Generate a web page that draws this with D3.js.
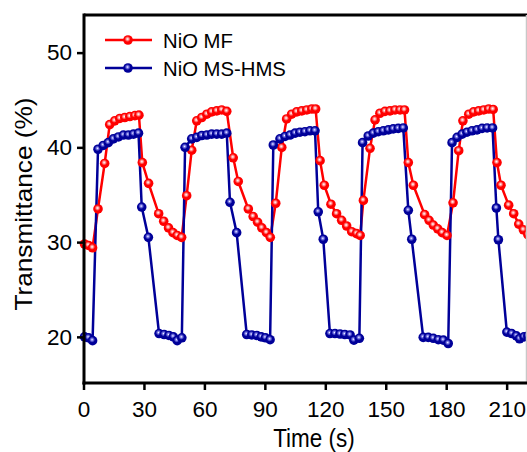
<!DOCTYPE html>
<html><head><meta charset="utf-8">
<script src="https://cdn.jsdelivr.net/npm/d3@7"></script>
<style>body{margin:0;background:#fff}svg{display:block}text{font-family:"Liberation Sans",Arial,sans-serif;fill:#000}</style>
</head><body>
<script>
const seriesNames = ["NiO MF", "NiO MS-HMS"];
const seriesColors = ["#ff0000", "#000099"];
const xTicks = [0, 30, 60, 90, 120, 150, 180, 210];
const yTicks = [20, 30, 40, 50];

const mfTime = [0.5,2.5,4.5, 7.2,10.5,13,15.5,18,20.5,23,25.5,27.5, 29.2,32.3,37.3,39.8,42.2,44.4,46.5,48.7,
  51.2,53.7,56.2,58.7,61.2,63.6,66.1,68.6,71.1, 74.3,76.8,81.8,84.2,86.4,88.5,90.8,92.7,
  95.4,98.4,100.8,103.3,105.8,108.3,110.8,113.3,115.2, 117.4,119.5,122.8,125.6,128.1,130.6,133.1,135.5,137.3,
  138.9,142.2,144.7,147.1,149.6,152.1,154.6,157.1,159.3, 161.2,163.7,169.3,171.5,173.6,175.8,178,180.4,
  183.4,186.2,188.3,191.2,193.6,196.1,198.6,201.1,203.3, 205.2,207.2,211,213.5,216,218.3,220.5];
const mfValue = [29.8,29.65,29.4, 33.5,38.3,42.4,42.8,43.05,43.15,43.25,43.35,43.4, 38.4,36.2,33.0,32.2,31.5,31.0,30.7,30.5,
  34.9,39.7,42.8,43.15,43.5,43.75,43.85,43.95,43.8, 38.9,36.4,33.5,32.7,32.1,31.5,31.0,30.5,
  34.1,40.0,43.0,43.5,43.75,43.85,43.95,44.05,44.05, 38.6,36.0,34.0,33.0,32.3,31.7,31.1,30.9,30.7,
  34.4,39.9,42.9,43.6,43.8,43.85,43.95,43.95,43.95, 38.4,36.0,32.9,32.3,31.8,31.4,31.0,30.7,
  34.15,39.65,42.8,43.5,43.75,43.85,43.95,44.05,44.0, 38.4,36.0,33.9,33.0,31.9,31.3,30.8];

const hmsTime = [0.5,2.5,4.5, 7.2,9.8,12.3,14.8,17.3,19.8,22.3,24.8,27.3, 28.9,32.2,37.5,40,42.4,44.6,46.5,48.8,
  50.4,53.7,56.2,58.7,61.2,63.6,66.1,68.6,71.1, 72.7,76,81,83.5,86,88.2,90.3,92.6,
  94.2,97.5,100,102.5,105,107.4,109.9,112.4,114.9, 116.5,119,122.3,124.8,127.3,129.7,132.3,134.2,136.9,
  138.5,141.3,143.8,146.3,148.8,151.3,153.7,156.2,158.7, 161.2,162.9,168.6,171.1,173.6,176.1,178.6,181,
  182.9,185.4,187.9,190.3,192.8,195.3,197.8,200.3,203, 204.9,205.9,210.1,212.5,214.8,216.4,218.6,220.5];
const hmsValue = [20.0,19.9,19.6, 39.8,40.2,40.5,40.9,41.1,41.3,41.3,41.4,41.5, 33.7,30.5,20.35,20.25,20.15,20.0,19.6,19.9,
  40.0,40.9,41.05,41.25,41.3,41.4,41.4,41.4,41.5, 34.2,31.0,20.25,20.2,20.15,20.0,19.9,19.7,
  40.25,40.9,41.15,41.3,41.5,41.6,41.65,41.75,41.75, 33.2,30.3,20.35,20.35,20.3,20.25,20.2,19.65,19.85,
  40.5,41.2,41.5,41.65,41.75,41.85,41.95,42.0,42.05, 33.35,30.3,19.95,19.95,19.85,19.7,19.65,19.3,
  40.5,41.05,41.4,41.6,41.75,41.85,42.0,42.05,42.05, 33.6,30.25,20.5,20.35,20.1,19.8,20.0,20.1];

const W = 527, H = 452;
const svg = d3.select("body").append("svg").attr("width", W).attr("height", H);
const pL = 84, pR = 526.5, pT = 15, pB = 383;
const x = d3.scaleLinear().domain([0, 220]).range([83.5, 526.8]);
const y = d3.scaleLinear().domain([15.13, 53.97]).range([pB, pT]);

const defs = svg.append("defs");
const hl = ["#ffb8b8", "#9090f0"];
seriesColors.forEach((c, i) => {
  const g = defs.append("radialGradient").attr("id", "ball" + i).attr("cx", "45%").attr("cy", "40%").attr("r", "55%");
  g.append("stop").attr("offset", "0%").attr("stop-color", "#ffffff");
  g.append("stop").attr("offset", "18%").attr("stop-color", hl[i]);
  g.append("stop").attr("offset", "55%").attr("stop-color", c);
  g.append("stop").attr("offset", "100%").attr("stop-color", c);
});
defs.append("clipPath").attr("id", "clip").append("rect")
  .attr("x", 70).attr("y", pT).attr("width", pR - 70).attr("height", pB - pT);

const series = [
  {t: mfTime, v: mfValue},
  {t: hmsTime, v: hmsValue}
];
const plot = svg.append("g").attr("clip-path", "url(#clip)");
const line = d3.line().x(d => x(d[0])).y(d => y(d[1]));
series.forEach((s, i) => {
  const pts = s.t.map((t, k) => [t, s.v[k]]);
  plot.append("path").datum(pts).attr("d", line).attr("fill", "none")
    .attr("stroke", seriesColors[i]).attr("stroke-width", 2.5).attr("stroke-linejoin", "round");
});
series.forEach((s, i) => {
  const pts = s.t.map((t, k) => [t, s.v[k]]);
  plot.selectAll(null).data(pts).enter().append("circle")
    .attr("cx", d => x(d[0])).attr("cy", d => y(d[1])).attr("r", 4.8)
    .attr("fill", `url(#ball${i})`);
});

// frame
svg.append("line").attr("x1", pL).attr("x2", W).attr("y1", pT).attr("y2", pT).attr("stroke", "#000").attr("stroke-width", 3);
svg.append("line").attr("x1", pR).attr("x2", pR).attr("y1", pT).attr("y2", pB).attr("stroke", "#c8c8c8").attr("stroke-width", 1.5);

const xa = svg.append("g").attr("transform", `translate(0,${pB})`)
  .call(d3.axisBottom(x).tickValues(xTicks).tickSize(7).tickSizeOuter(0).tickPadding(11));
const ya = svg.append("g").attr("transform", `translate(${pL},0)`)
  .call(d3.axisLeft(y).tickValues(yTicks).tickSize(7).tickSizeOuter(0).tickPadding(5));
[xa, ya].forEach(a => {
  a.select(".domain").attr("stroke-width", 3).attr("stroke", "#000");
  a.selectAll(".tick line").attr("stroke-width", 2.5).attr("stroke", "#000");
  a.selectAll(".tick text").attr("font-size", 22.5).attr("font-family", '"Liberation Sans",Arial,sans-serif').attr("fill", "#000");
});
xa.select(".domain").attr("d", `M${pL - 1.5},0H${W}`);
ya.select(".domain").attr("d", `M0,${pT - 1.5}V${pB + 1.5}`);

svg.append("text").attr("text-anchor", "middle").attr("font-size", 22.5)
  .attr("transform", "translate(314,447) scale(1,1.15)").text("Time (s)");
svg.append("text").attr("text-anchor", "middle").attr("font-size", 23)
  .attr("transform", "translate(32,204) rotate(-90) scale(1.14,1)").text("Transmittance (%)");

// legend
const legY = [40, 68];
seriesNames.forEach((n, i) => {
  const g = svg.append("g");
  g.append("line").attr("x1", 105).attr("x2", 152).attr("y1", legY[i]).attr("y2", legY[i])
    .attr("stroke", seriesColors[i]).attr("stroke-width", 2.5);
  g.append("circle").attr("cx", 128).attr("cy", legY[i]).attr("r", 4.8).attr("fill", `url(#ball${i})`);
  g.append("text").attr("x", 163).attr("y", legY[i] + 7.5).attr("font-size", 20.3).text(n);
});
</script>
</body></html>
